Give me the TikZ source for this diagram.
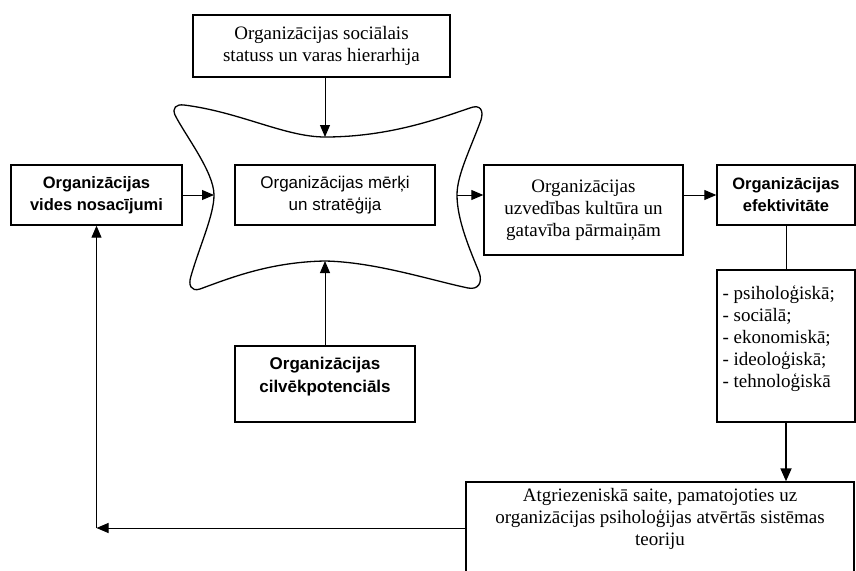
\documentclass[tikz,border=0pt]{standalone}
\usepackage{fontspec}
\setmainfont{Liberation Serif}
\newfontfamily\headsans{Liberation Sans}
\usetikzlibrary{arrows.meta}

\tikzset{
  box/.style={draw, line width=1.4pt, inner sep=0pt},
  heavybox/.style={draw, line width=2.4pt, inner sep=0pt},
  seriftext/.style={align=center, font=\fontsize{19}{22}\selectfont},
  sanstext/.style={align=center, font=\headsans\fontsize{17}{22}\selectfont},
  boldsans/.style={align=center, font=\headsans\bfseries\fontsize{16.5}{22}\selectfont},
  link/.style={line width=1pt},
  arrowlink/.style={line width=1pt, -{Triangle[length=12pt,width=10pt]}},
  thicklink/.style={line width=1.8pt, -{Triangle[length=13pt,width=11pt]}},
}

\begin{document}
\begin{tikzpicture}[x=1pt, y=-1pt]
  \useasboundingbox[fill=white] (0,0) rectangle (856,570);

  % concave outline around the goals box
  \draw[line width=1.3pt]
    (325,137) .. controls (390,137) and (440,118) .. (470,108)
    .. controls (480,104) and (484,110) .. (481,120)
    .. controls (470,150) and (457,175) .. (457,195)
    .. controls (457,220) and (470,250) .. (479,272)
    .. controls (483,283) and (478,290) .. (468,288)
    .. controls (430,280) and (375,262) .. (325,261)
    .. controls (270,262) and (230,278) .. (200,289)
    .. controls (191,292) and (188,285) .. (191,276)
    .. controls (200,245) and (214,215) .. (214,195)
    .. controls (214,172) and (185,135) .. (175,115)
    .. controls (172,108) and (176,104) .. (184,105)
    .. controls (240,112) and (285,137) .. (325,137) -- cycle;
  \coordinate (cloudT) at (325,137);
  \coordinate (cloudB) at (325,261);
  \coordinate (cloudL) at (214,195);
  \coordinate (cloudR) at (457,195);

  % boxes
  \node[box, seriftext, minimum width=257pt, minimum height=62pt] (status) at (321.5,46)
    {Organizācijas sociālais\\statuss un varas hierarhija};
  \node[box, sanstext, minimum width=200pt, minimum height=60pt] (goals) at (335,195)
    {Organizācijas mērķi\\un stratēģija};
  \node[box, boldsans, minimum width=171pt, minimum height=60pt] (env) at (96.5,195)
    {Organizācijas\\vides nosacījumi};
  \node[box, seriftext, minimum width=199pt, minimum height=90pt] (culture) at (583.5,210)
    {Organizācijas\\uzvedības kultūra un\\gatavība pārmaiņām};
  \node[box, boldsans, minimum width=138pt, minimum height=60pt] (eff) at (786,195)
    {Organizācijas\\efektivitāte};
  \node[box, minimum width=138pt, minimum height=152pt] (list) at (786,346) {};
  \node[seriftext, align=left, anchor=west] (listtext) at (719,339)
    {- psiholoģiskā;\\- sociālā;\\- ekonomiskā;\\- ideoloģiskā;\\- tehnoloģiskā};
  \node[heavybox, minimum width=180pt, minimum height=76pt] (human) at (325,384) {};
  \node[boldsans, font=\headsans\bfseries\fontsize{17}{23}\selectfont] (humantext) at (325,377)
    {Organizācijas\\cilvēkpotenciāls};
  \node[box, minimum width=388pt, minimum height=92pt] (fb) at (660,528) {};
  \node[seriftext] (fbtext) at (660,519)
    {Atgriezeniskā saite, pamatojoties uz\\organizācijas psiholoģijas atvērtās sistēmas\\teoriju};
  \coordinate (fbcorner) at (96.5,528);

  % connectors
  \draw[arrowlink] (status.south -| cloudT) -- (cloudT);
  \draw[arrowlink] (human.north) -- (cloudB);
  \draw[arrowlink] (env.east) -- (cloudL);
  \draw[arrowlink] (cloudR) -- (cloudR -| culture.west);
  \draw[arrowlink] (eff.west -| culture.east) -- (eff.west);
  \draw[link] (eff.south) -- (list.north);
  \draw[thicklink] (list.south) -- (fb.north -| list.south);
  \draw[arrowlink] (fb.west) -- (fbcorner);
  \draw[arrowlink] (fbcorner) -- (env.south);
\end{tikzpicture}
\end{document}
